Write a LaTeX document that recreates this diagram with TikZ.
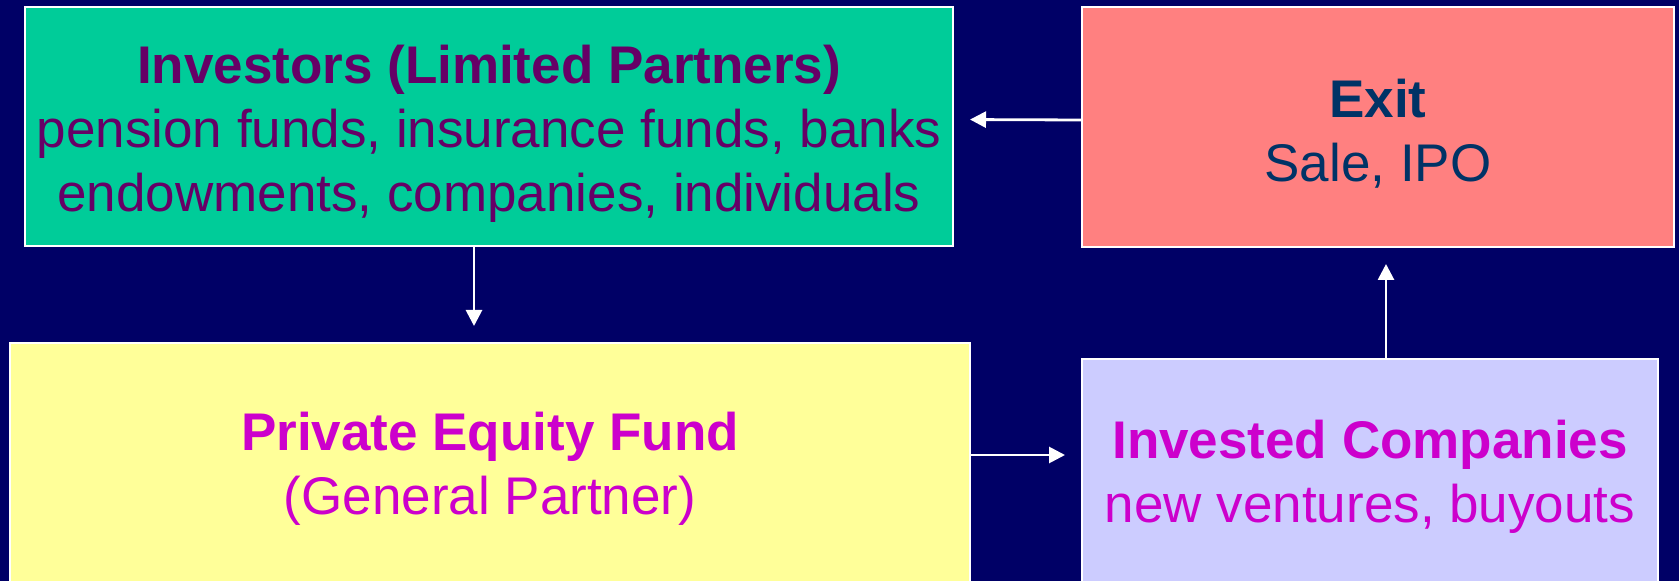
\documentclass[tikz,border=0pt]{standalone}
\usepackage{fontspec}
\setmainfont{Liberation Sans}
\usetikzlibrary{arrows.meta,calc}

\definecolor{slidebg}{HTML}{000066}
\definecolor{lpgreen}{HTML}{00CC99}
\definecolor{lppurple}{HTML}{660066}
\definecolor{exitred}{HTML}{FF8080}
\definecolor{exitblue}{HTML}{003366}
\definecolor{fundyellow}{HTML}{FFFF99}
\definecolor{firmlilac}{HTML}{CCCCFF}
\definecolor{magentatext}{HTML}{CC00CC}

\tikzset{
  box/.style={draw=white, line width=1pt, inner sep=0pt},
  boxtext/.style={inner sep=0pt, align=center, font=\fontsize{26.5}{32}\selectfont},
  flow/.style={draw=white, line width=1.4pt, -{Triangle[length=8pt,width=8pt]}, shorten >=8pt},
}

\begin{document}
\begin{tikzpicture}[x=0.5pt,y=-0.5pt]
  \fill[slidebg] (0,0) rectangle (1679,581);
  \useasboundingbox (0,0) rectangle (1679,581);
  % boxes
  \node[box, fill=lpgreen, minimum width=464pt, minimum height=119.5pt] (investors) at (489,126.5) {};
  \node[boxtext, text=lppurple] (investorslabel) at (489,134)
    {\textbf{Investors (Limited Partners)}\\pension funds, insurance funds, banks\\endowments, companies, individuals};
  \node[box, fill=exitred, minimum width=296pt, minimum height=120pt] (exit) at (1378,127) {};
  \node[boxtext, text=exitblue] (exitlabel) at (1378,134) {\textbf{Exit}\\Sale, IPO};
  \node[box, fill=fundyellow, minimum width=480pt, minimum height=139pt, anchor=north] (fund) at (490,342) {};
  \node[boxtext, text=magentatext] (fundlabel) at (490,469) {\textbf{Private Equity Fund}\\(General Partner)};
  \node[box, fill=firmlilac, minimum width=288pt, minimum height=131pt, anchor=north] (firms) at (1370,358) {};
  \node[boxtext, text=magentatext] (firmslabel) at (1370,477) {\textbf{Invested Companies}\\new ventures, buyouts};
  % money and deals
  \draw[flow] ($(exit.west)+(0,-7)$) -- ($(investors.east)+(0,-7)$);
  \draw[flow] ($(investors.south)+(-15,0)$) -- ($(fund.north)+(-16,0)$);
  \draw[flow] ($(fund.north east)+(0,113)$) -- ($(firms.north west)+(0,97)$);
  \draw[flow] ($(firms.north)+(16,0)$) -- ($(exit.south)+(8,0)$);
\end{tikzpicture}
\end{document}
